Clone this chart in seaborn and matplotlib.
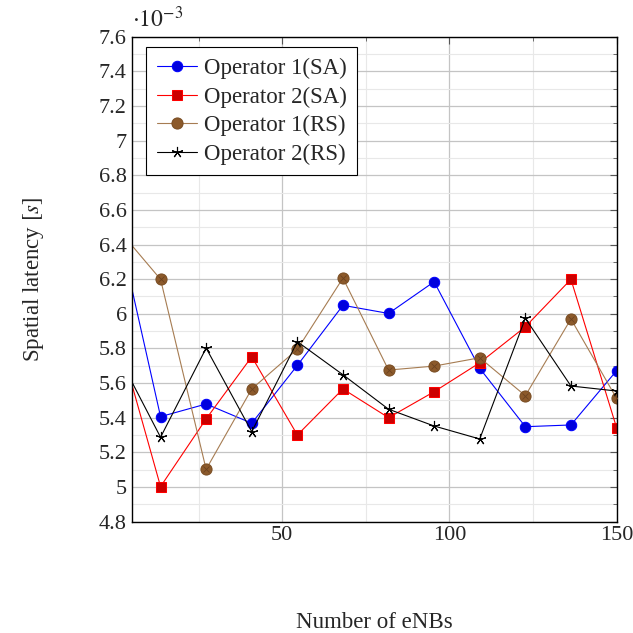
import numpy as np
import pandas as pd
import matplotlib
matplotlib.use("Agg")
import matplotlib.pyplot as plt
import seaborn as sns
from matplotlib.ticker import MultipleLocator, FormatStrFormatter

sns.set_style("white")
plt.rcParams['font.family'] = ['Liberation Serif', 'DejaVu Serif']
plt.rcParams['mathtext.fontset'] = 'stix'

# x: number of eNBs
n_enbs = [0, 13.64, 27.27, 40.91, 54.55, 68.18, 81.82, 95.45, 109.09, 122.73, 136.36, 150]
# spatial latency in units of 1e-3 s
op1_sa = [6.58, 5.406, 5.479, 5.368, 5.702, 6.049, 6.002, 6.185, 5.685, 5.348, 5.358, 5.671]
op2_sa = [5.94, 5.002, 5.393, 5.752, 5.300, 5.566, 5.400, 5.550, 5.717, 5.925, 6.199, 5.343]
op1_rs = [6.51, 6.199, 5.102, 5.566, 5.795, 6.206, 5.675, 5.698, 5.746, 5.527, 5.970, 5.512]
op2_rs = [5.795, 5.287, 5.802, 5.319, 5.839, 5.648, 5.449, 5.352, 5.277, 5.974, 5.583, 5.554]
labels = ["Operator 1(SA)", "Operator 2(SA)", "Operator 1(RS)", "Operator 2(RS)"]

fig = plt.figure(figsize=(6.33, 6.33), dpi=100)
ax = fig.add_axes([0.208, 0.176, 0.766, 0.766])

brown_line = '#a67c52'
brown_fill = '#8c5a2b'
styles = [
    dict(color='blue', marker='o', markersize=7.5, markerfacecolor='#0000dd', markeredgecolor='blue'),
    dict(color='red', marker='s', markersize=7.2, markerfacecolor='#cc0000', markeredgecolor='red'),
    dict(color=brown_line, marker='o', markersize=8, markerfacecolor=brown_fill, markeredgecolor='#7a4e24'),
    dict(color='black', marker=(5, 2, 0), markersize=8, markeredgecolor='black', markeredgewidth=0.8),
]
series = [op1_sa, op2_sa, op1_rs, op2_rs]
for vals, lab, st in zip(series, labels, styles):
    df = pd.DataFrame({"x": n_enbs, "y": vals})
    sns.lineplot(data=df, x="x", y="y", ax=ax, label=lab, linewidth=0.8,
                 estimator=None, sort=False, **st)
# cross inside brown circles (otimes)
ax.plot(n_enbs, op1_rs, linestyle='none', marker='x', markersize=5,
        markeredgecolor='#6b4220', markeredgewidth=0.6, zorder=5)

ax.set_xlim(5, 150)
ax.set_ylim(4.8, 7.6)
ax.xaxis.set_major_locator(MultipleLocator(50))
ax.xaxis.set_minor_locator(MultipleLocator(25))
ax.yaxis.set_major_locator(MultipleLocator(0.2))
ax.yaxis.set_minor_locator(MultipleLocator(0.1))
ax.yaxis.set_major_formatter(FormatStrFormatter('%g'))
ax.grid(which='major', color='#c4c4c4', linewidth=0.9)
ax.grid(which='minor', color='#e8e8e8', linewidth=0.8)
ax.set_axisbelow(True)
ax.tick_params(which='both', direction='in', top=True, right=True, labelsize=16, color='#555555')
ax.tick_params(which='major', length=5, width=0.8)
ax.tick_params(which='minor', length=3, width=0.6)
for s in ax.spines.values():
    s.set_color('black')
    s.set_linewidth(1.0)

ax.set_xlabel("Number of eNBs", fontsize=16.5, labelpad=48)
ax.set_ylabel("Spatial latency $[s]$", fontsize=16.5, labelpad=38)
ax.text(0.0, 1.01, r"$\cdot 10^{-3}$", transform=ax.transAxes, fontsize=17,
        ha='left', va='bottom')

leg = ax.legend(loc='upper left', bbox_to_anchor=(0.03, 0.978), fontsize=16.5,
                frameon=True, fancybox=False, edgecolor='black', framealpha=1,
                handlelength=1.75, handletextpad=0.3, borderpad=0.45, labelspacing=0.33,
                borderaxespad=0)
leg.get_frame().set_linewidth(0.8)

fig.savefig("out.png", dpi=100)
